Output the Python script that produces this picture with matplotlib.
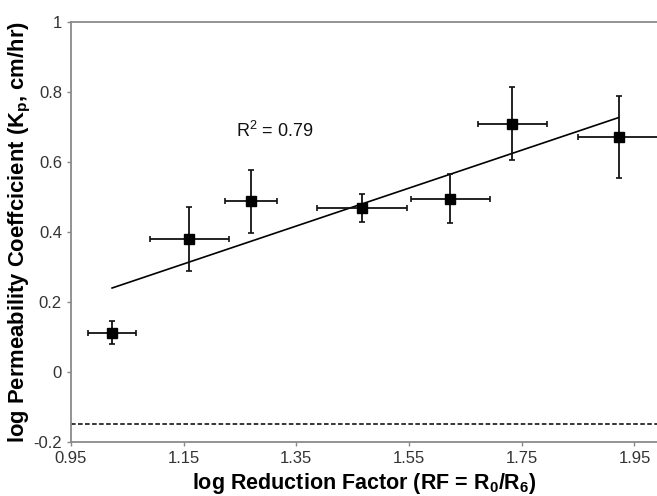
import numpy as np
import matplotlib
matplotlib.use("Agg")
import matplotlib.pyplot as plt

plt.rcParams["font.family"] = ["Liberation Sans", "DejaVu Sans"]
plt.rcParams["mathtext.default"] = "regular"

# data
log_rf = [1.023, 1.160, 1.269, 1.467, 1.623, 1.733, 1.922]
log_kp = [0.112, 0.380, 0.488, 0.467, 0.495, 0.709, 0.671]
rf_err = [0.042, 0.070, 0.046, 0.080, 0.070, 0.061, 0.072]
kp_err = [0.033, 0.092, 0.090, 0.040, 0.071, 0.104, 0.116]
baseline = -0.15
x_ticks = [0.95, 1.15, 1.35, 1.55, 1.75, 1.95]
y_ticks = [-0.2, 0, 0.2, 0.4, 0.6, 0.8, 1]

fig = plt.figure(figsize=(6.57, 4.96), dpi=100)
ax = fig.add_axes([0.108, 0.109, 0.892, 0.847])

ax.errorbar(log_rf, log_kp, xerr=rf_err, yerr=kp_err, fmt="s", color="black",
            ms=6.5, ecolor="#111111", elinewidth=1.3, capsize=2.5, capthick=1.2, zorder=3)

# linear trend line
slope, icpt = np.polyfit(log_rf, log_kp, 1)
xs = np.array([min(log_rf), max(log_rf)])
ax.plot(xs, slope * xs + icpt, color="black", lw=1.2, zorder=2)

ax.axhline(baseline, color="black", lw=1.1, ls=(0, (3, 1.6)))

ax.text(1.243, 0.689, "R$^2$ = 0.79", fontsize=13, va="center", color="#111111")

ax.set_xlim(0.95, 1.99)
ax.set_ylim(-0.2, 1)
ax.set_xticks(x_ticks)
ax.set_yticks(y_ticks)
ax.set_xticklabels([f"{t:g}" for t in x_ticks])
ax.set_yticklabels([f"{t:g}" for t in y_ticks])
ax.tick_params(length=3, width=1, color="#888888", labelsize=12, labelcolor="#333333")

for s in ["left", "bottom", "top"]:
    ax.spines[s].set_color("#8a8a8a")
    ax.spines[s].set_linewidth(1.3)
ax.spines["right"].set_visible(False)

ax.set_xlabel("log Reduction Factor (RF = R$_0$/R$_6$)", fontsize=15.5, fontweight="bold")
ax.set_ylabel("log Permeability Coeffcicient (K$_p$, cm/hr)", fontsize=15.8, fontweight="bold")
ax.xaxis.set_label_coords(0.5, -0.068)
ax.yaxis.set_label_coords(-0.064, 0.5)

fig.savefig("out.png", dpi=100)
